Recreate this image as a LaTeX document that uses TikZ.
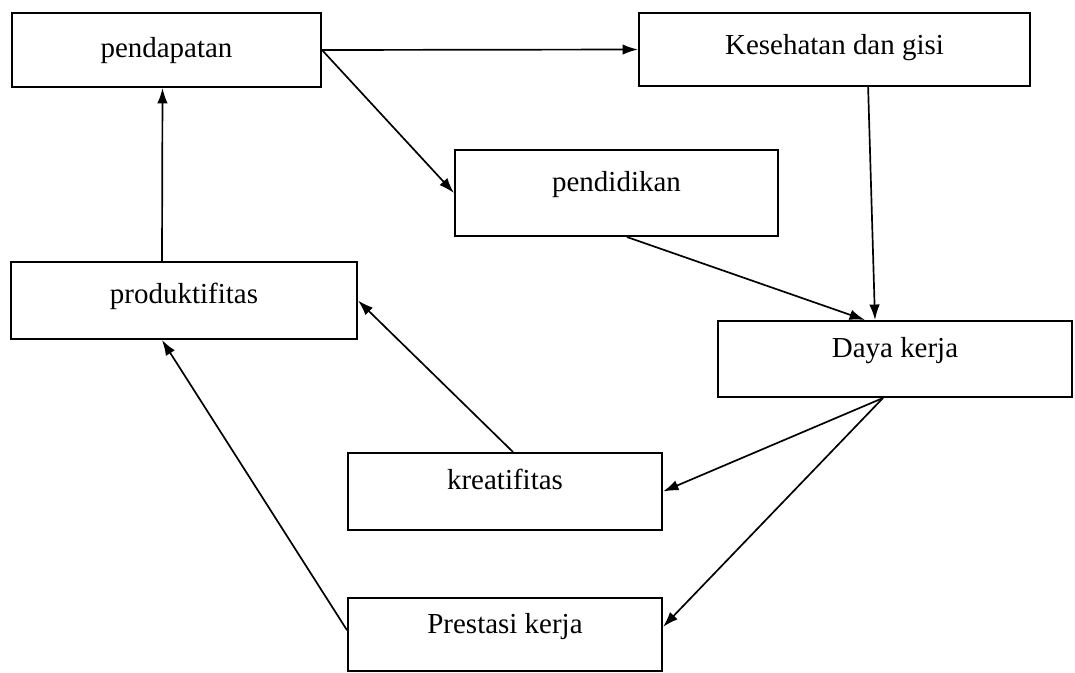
\documentclass[tikz,border=0pt]{standalone}
\usepackage{fontspec}
\setmainfont{Liberation Serif}
\usetikzlibrary{arrows.meta, positioning}

\tikzset{
  kotak/.style={draw, line width=1.4pt, inner sep=0pt, text height=14.4pt, text depth=5.15pt,
                font=\fontsize{20.6}{24}\selectfont},
  panah/.style={line width=1.2pt, -{Latex[length=11pt, width=7.5pt]}}
}

\begin{document}
\begin{tikzpicture}[x=0.025cm, y=-0.025cm]
  \useasboundingbox (0,0) rectangle (1075,672);

  % baris atas
  \node[kotak, minimum width=7.725cm, minimum height=1.85cm, text depth=4pt] (pendapatan) at (166.5,50) {pendapatan};
  \node[kotak, minimum width=9.775cm, minimum height=1.825cm, text depth=7pt] (kesehatan) at (834.5,49.5) {Kesehatan dan gisi};
  \node[kotak, minimum width=8.075cm, minimum height=2.15cm, text depth=17pt] (pendidikan) at (616.5,193) {pendidikan};

  % tengah
  \node[kotak, minimum width=8.65cm, minimum height=1.925cm, text depth=10pt] (produktifitas) at (184,300.5) {produktifitas};
  \node[kotak, minimum width=8.85cm, minimum height=1.9cm, text depth=16pt] (daya) at (895,359) {Daya kerja};

  % bawah
  \node[kotak, minimum width=7.85cm, minimum height=1.925cm, text depth=17pt] (kreatifitas) at (505,491.5) {kreatifitas};
  \node[kotak, minimum width=7.85cm, minimum height=1.825cm, text depth=15.5pt] (prestasi) at (505,634.5) {Prestasi kerja};

  % panah
  \draw[panah] (pendapatan.east) -- (kesehatan.west);
  \draw[panah] (pendapatan.east) -- (pendidikan.west);
  \draw[panah] ([xshift=-0.55cm]produktifitas.north) -- ([xshift=-0.1cm]pendapatan.south);
  \draw[panah] ([xshift=0.84cm]kesehatan.south) -- ([xshift=-0.5cm]daya.north);
  \draw[panah] ([xshift=0.26cm]pendidikan.south) -- ([xshift=-0.75cm]daya.north);
  \draw[panah] ([xshift=-0.3cm]daya.south) -- (kreatifitas.east);
  \draw[panah] ([xshift=-0.3cm]daya.south) -- ([yshift=0.19cm]prestasi.east);
  \draw[panah] ([xshift=0.2cm]kreatifitas.north) -- (produktifitas.east);
  \draw[panah] ([yshift=0.11cm]prestasi.west) -- ([xshift=-0.55cm]produktifitas.south);
\end{tikzpicture}
\end{document}
